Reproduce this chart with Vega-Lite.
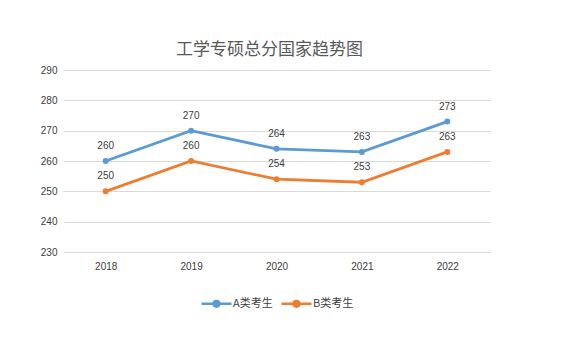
{
  "$schema": "https://vega.github.io/schema/vega-lite/v6.json",
  "width": 427,
  "height": 182,
  "autosize": {"type": "none"},
  "padding": {"left": 63, "top": 70, "right": 73, "bottom": 92},
  "background": "white",
  "title": {
    "text": "工学专硕总分国家趋势图",
    "font": "Noto Sans CJK SC",
    "fontSize": 17,
    "fontWeight": "normal",
    "color": "#595959",
    "anchor": "middle",
    "dx": -7,
    "offset": 6
  },
  "data": {
    "values": [
      {"year": "2018", "series": "A类考生", "score": 260},
      {"year": "2019", "series": "A类考生", "score": 270},
      {"year": "2020", "series": "A类考生", "score": 264},
      {"year": "2021", "series": "A类考生", "score": 263},
      {"year": "2022", "series": "A类考生", "score": 273},
      {"year": "2018", "series": "B类考生", "score": 250},
      {"year": "2019", "series": "B类考生", "score": 260},
      {"year": "2020", "series": "B类考生", "score": 254},
      {"year": "2021", "series": "B类考生", "score": 253},
      {"year": "2022", "series": "B类考生", "score": 263}
    ]
  },
  "encoding": {
    "x": {
      "field": "year",
      "type": "ordinal",
      "scale": {"type": "point", "padding": 0.5},
      "axis": {
        "title": null,
        "labelAngle": 0,
        "ticks": false,
        "domain": false,
        "labelPadding": 9,
        "labelFont": "Liberation Sans",
        "labelFontSize": 10,
        "labelColor": "#404040"
      }
    },
    "y": {
      "field": "score",
      "type": "quantitative",
      "scale": {"domain": [230, 290], "nice": false, "zero": false},
      "axis": {
        "title": null,
        "values": [230, 240, 250, 260, 270, 280, 290],
        "ticks": false,
        "domain": false,
        "gridColor": "#d9d9d9",
        "gridWidth": 1,
        "labelPadding": 6,
        "labelFont": "Liberation Sans",
        "labelFontSize": 10,
        "labelColor": "#404040"
      }
    },
    "color": {
      "field": "series",
      "type": "nominal",
      "scale": {"domain": ["A类考生", "B类考生"], "range": ["#5B9BD5", "#ED7D31"]},
      "legend": {
        "title": null,
        "orient": "none",
        "legendX": 137,
        "legendY": 217,
        "direction": "horizontal",
        "labelFont": "Noto Sans CJK SC",
        "labelFontSize": 11,
        "labelColor": "#404040",
        "columnPadding": 3,
        "labelOffset": 0,
        "symbolType": "M-1,0L1,0M-0.19,0a0.19,0.19 0 1,0 0.38,0a0.19,0.19 0 1,0 -0.38,0",
        "symbolSize": 900,
        "symbolStrokeWidth": 2.5,
        "encode": {
          "symbols": {
            "update": {
              "stroke": {"scale": "color", "field": "value"},
              "fill": {"scale": "color", "field": "value"}
            }
          }
        }
      }
    }
  },
  "layer": [
    {
      "mark": {"type": "line", "strokeWidth": 2.8, "point": {"filled": true, "size": 36}}
    },
    {
      "mark": {"type": "text", "dy": -15, "font": "Liberation Sans", "fontSize": 10, "color": "#404040"},
      "encoding": {
        "text": {"field": "score", "type": "quantitative"},
        "color": {"value": "#404040"}
      }
    }
  ],
  "config": {
    "view": {"stroke": null}
  }
}
